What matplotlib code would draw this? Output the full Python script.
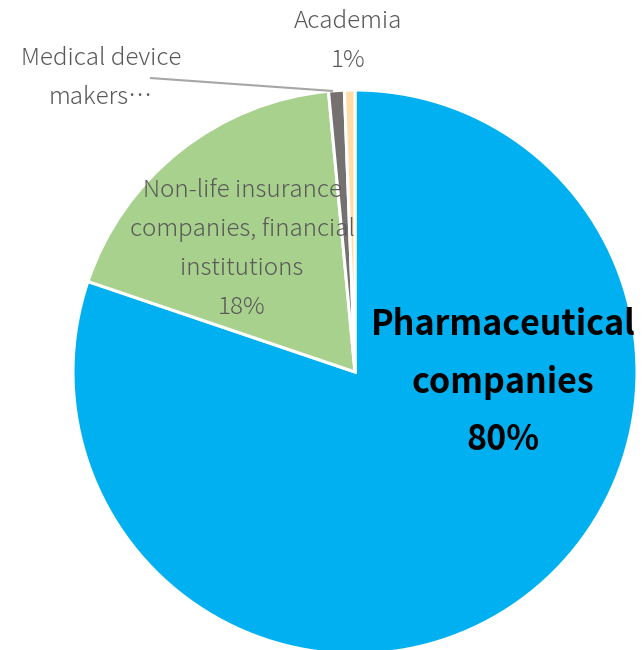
import matplotlib
matplotlib.use("Agg")
import matplotlib.pyplot as plt
import numpy as np

plt.rcParams['font.family'] = ['Noto Sans CJK JP', 'DejaVu Sans']

# Share of users by sector (%)
categories = ["Pharmaceutical\ncompanies",
              "Non-life insurance\ncompanies, financial\ninstitutions",
              "Medical device\nmakers…",
              "Academia"]
shares = [80.2, 18.3, 0.9, 0.6]
colors = ["#00B0F0", "#A9D18E", "#767171", "#FFDCA8"]

W, H = 642, 650
fig = plt.figure(figsize=(W / 100, H / 100), dpi=100)
ax = fig.add_axes([0, 0, 1, 1])

cx, cy, R = 355, 278, 282
wedges, _ = ax.pie(shares, colors=colors, startangle=90, counterclock=False,
                   center=(cx, cy), radius=R,
                   wedgeprops=dict(edgecolor="white", linewidth=2.2))
ax.set_xlim(0, W)
ax.set_ylim(0, H)
ax.set_aspect('equal')
ax.axis('off')

pct = [f"{int(np.floor(v + 0.5))}%" for v in shares]

label_color = "#595959"
fs = 17.4
ls = 1.74

# Pharmaceutical label (inside, bold)
ax.text(503, H - 382, f"{categories[0]}\n{pct[0]}", ha="center", va="center",
        fontsize=24.5, fontweight="bold", color="black", linespacing=1.8)

# Non-life label (inside)
ax.text(242, H - 249, f"{categories[1]}\n{pct[1]}", ha="center", va="center",
        fontsize=fs, color=label_color, linespacing=ls, fontweight="light")

# Medical device makers label with leader line
ax.text(101, H - 78, categories[2], ha="center", va="center",
        fontsize=fs, color=label_color, linespacing=ls, fontweight="light")
ax.plot([150, 333], [H - 78, H - 91], color="#A6A6A6", lw=1.5, solid_capstyle="butt")

# Academia label
ax.text(348, H - 41, f"{categories[3]}\n{pct[3]}", ha="center", va="center",
        fontsize=fs, color=label_color, linespacing=ls, fontweight="light")

fig.savefig("out.png", dpi=100)
